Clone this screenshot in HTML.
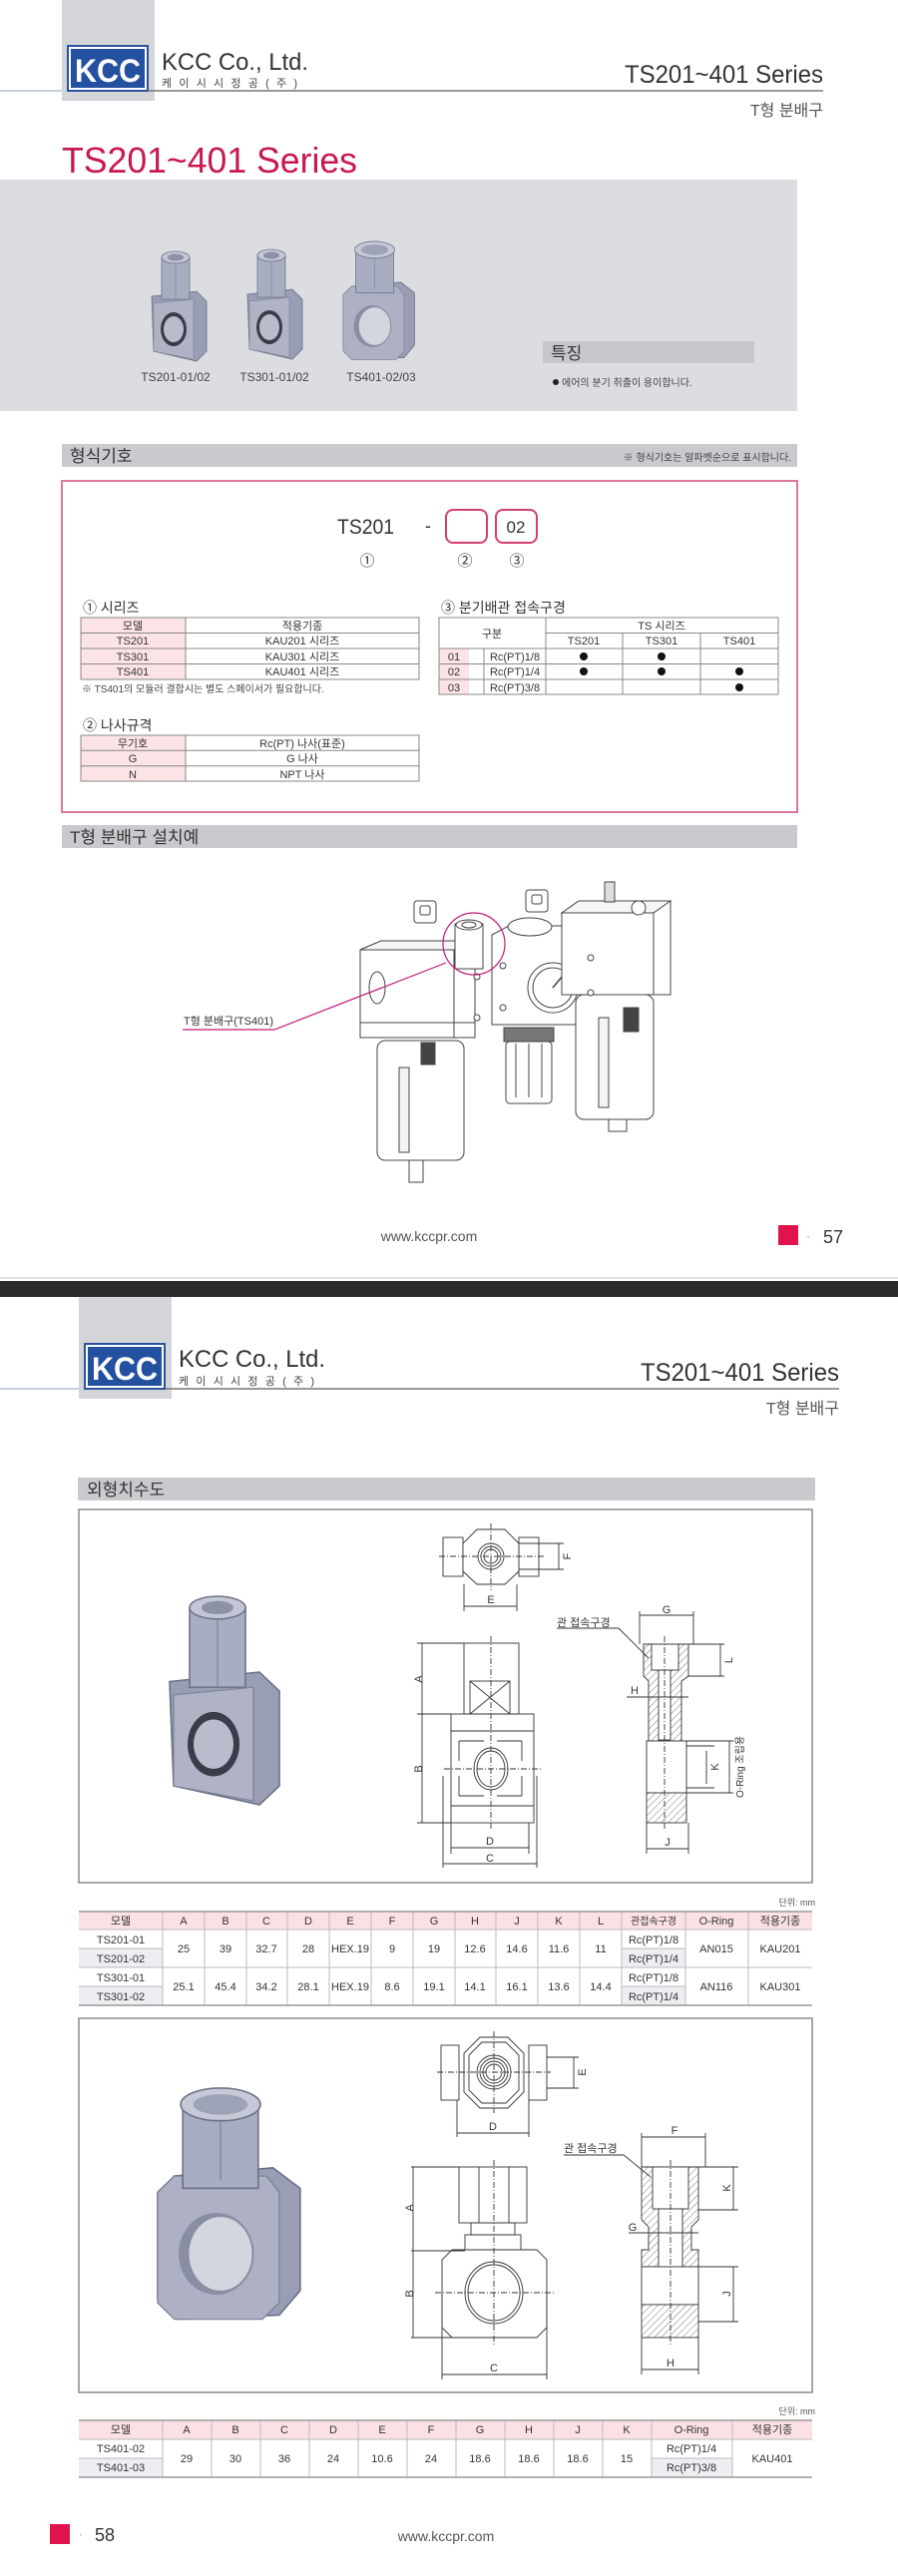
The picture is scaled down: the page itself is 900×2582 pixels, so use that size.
<!DOCTYPE html>
<html><head><meta charset="utf-8"><style>
html,body{margin:0;padding:0;background:#fff;}
svg{display:block;}
text{font-family:"Liberation Sans","Noto Sans CJK KR",sans-serif;fill:#333;}
</style></head><body>
<svg width="900" height="2582" viewBox="0 0 900 2582" xmlns="http://www.w3.org/2000/svg">
<defs>
<pattern id="hat" width="5" height="5" patternUnits="userSpaceOnUse" patternTransform="rotate(45)">
<rect width="5" height="5" fill="#fff"/><line x1="0" y1="0" x2="0" y2="5" stroke="#555" stroke-width="0.8"/></pattern>
<g id="prodA">
<polygon points="0,45 45,40 55,50 55,100 45,110 2,100" fill="#9a9eb4" stroke="#6b6f84" stroke-width="0.8"/>
<polygon points="2,52 42,48 42,108 2,100" fill="#b0b3c6" stroke="#7d8196" stroke-width="0.6"/>
<rect x="10" y="6" width="28" height="42" fill="#a9adc2" stroke="#6f7388" stroke-width="0.8"/>
<line x1="24" y1="6" x2="24" y2="48" stroke="#7f8398" stroke-width="0.6"/>
<ellipse cx="24" cy="6" rx="14" ry="6" fill="#c3c6d5" stroke="#6f7388" stroke-width="0.8"/>
<ellipse cx="24" cy="6" rx="8" ry="3.5" fill="#8d91a6"/>
<ellipse cx="22" cy="78" rx="13" ry="17" fill="#3a3c48"/>
<ellipse cx="22" cy="78" rx="10" ry="13" fill="#b9bccc"/>
</g>
<g id="prodB">
<polygon points="0,50 8,42 55,38 68,48 68,98 58,110 10,112 0,102" fill="#9a9eb4" stroke="#6b6f84" stroke-width="0.8"/>
<polygon points="0,50 8,42 52,42 58,50 58,104 50,112 8,112 0,104" fill="#aeb1c4" stroke="#7d8196" stroke-width="0.6"/>
<rect x="12" y="6" width="36" height="42" fill="#a9adc2" stroke="#6f7388" stroke-width="0.8"/>
<line x1="30" y1="6" x2="30" y2="44" stroke="#7f8398" stroke-width="0.6"/>
<ellipse cx="30" cy="7" rx="19" ry="8" fill="#c6c9d6" stroke="#6f7388" stroke-width="0.8"/>
<ellipse cx="30" cy="7" rx="13" ry="5" fill="#9ea2b6"/>
<ellipse cx="28" cy="80" rx="18" ry="20" fill="#8a8ea3"/>
<ellipse cx="30" cy="80" rx="15" ry="18" fill="#d4d6df"/>
</g>
<g id="logo">
<rect x="0" y="0" width="80" height="45" fill="#fff" stroke="#2a52a0" stroke-width="2"/>
<rect x="3" y="3" width="74" height="39" fill="#2450a0"/>
<text x="40" y="36" text-anchor="middle" font-size="32" font-weight="bold" style="fill:#fff" textLength="66" lengthAdjust="spacingAndGlyphs">KCC</text>
</g>
</defs>

<!-- ============ PAGE 1 ============ -->
<rect x="62" y="0" width="93" height="101" fill="#d4d5d8"/>
<use href="#logo" x="68" y="46"/>
<text x="162" y="70" font-size="24" textLength="147" lengthAdjust="spacingAndGlyphs">KCC Co., Ltd.</text>
<text x="162" y="87" font-size="11" textLength="136" lengthAdjust="spacing" style="fill:#444">케이시시정공(주)</text>
<line x1="0" y1="91" x2="62" y2="91" stroke="#8b9bb4" stroke-width="1"/>
<line x1="148" y1="91" x2="825" y2="91" stroke="#777" stroke-width="1.5"/>
<text x="626" y="83" font-size="25" textLength="199" lengthAdjust="spacingAndGlyphs">TS201~401 Series</text>
<text x="825" y="116" font-size="16" text-anchor="end" style="fill:#555">T형 분배구</text>
<text x="62" y="173" font-size="36" textLength="296" lengthAdjust="spacingAndGlyphs" style="fill:#c8194f">TS201~401 Series</text>

<rect x="0" y="180" width="799" height="232" fill="#dcdde0"/>
<use href="#prodA" transform="translate(152,252) scale(1.0)"/>
<use href="#prodA" transform="translate(248,250) scale(1.0)"/>
<use href="#prodB" transform="translate(344,243) scale(1.05)"/>
<text x="176" y="382" font-size="12" text-anchor="middle" style="fill:#444">TS201-01/02</text>
<text x="275" y="382" font-size="12" text-anchor="middle" style="fill:#444">TS301-01/02</text>
<text x="382" y="382" font-size="12" text-anchor="middle" style="fill:#444">TS401-02/03</text>
<rect x="544" y="342" width="212" height="22" fill="#c6c7ca"/>
<text x="552" y="360" font-size="17">특징</text>
<circle cx="557" cy="383" r="3" fill="#222"/>
<text x="563" y="387" font-size="10" style="fill:#444">에어의 분기 취출이 용이합니다.</text>

<rect x="62" y="445" width="737" height="23" fill="#c9cacd"/>
<text x="70" y="463" font-size="17">형식기호</text>
<text x="793" y="462" font-size="10" text-anchor="end" style="fill:#444">※ 형식기호는 알파벳순으로 표시합니다.</text>
<rect x="62" y="482" width="737" height="332" fill="none" stroke="#d9789d" stroke-width="2"/>
<text x="338" y="535" font-size="21" textLength="57" lengthAdjust="spacingAndGlyphs">TS201</text>
<text x="426" y="533" font-size="18">-</text>
<rect x="447" y="511" width="41" height="33" rx="7" fill="none" stroke="#d4406e" stroke-width="2"/>
<rect x="497" y="511" width="41" height="33" rx="7" fill="none" stroke="#d4406e" stroke-width="2"/>
<text x="517" y="534" font-size="17" text-anchor="middle">02</text>
<text x="368" y="567" font-size="15" text-anchor="middle">①</text>
<text x="466" y="567" font-size="15" text-anchor="middle">②</text>
<text x="518" y="567" font-size="15" text-anchor="middle">③</text>

<!-- table 1 -->
<text x="83" y="614" font-size="14">① 시리즈</text>
<rect x="81" y="619" width="105" height="62" fill="#fbe3e6"/>
<g stroke="#888" stroke-width="1" fill="none">
<rect x="81" y="619" width="339" height="62"/>
<line x1="186" y1="619" x2="186" y2="681"/>
<line x1="81" y1="634.5" x2="420" y2="634.5"/>
<line x1="81" y1="650" x2="420" y2="650"/>
<line x1="81" y1="665.5" x2="420" y2="665.5"/>
</g>
<g font-size="11" text-anchor="middle">
<text x="133" y="631">모델</text><text x="303" y="631">적용기종</text>
<text x="133" y="646">TS201</text><text x="303" y="646">KAU201 시리즈</text>
<text x="133" y="662">TS301</text><text x="303" y="662">KAU301 시리즈</text>
<text x="133" y="677">TS401</text><text x="303" y="677">KAU401 시리즈</text>
</g>
<text x="82" y="694" font-size="10" style="fill:#444">※ TS401의 모듈러 결합시는 별도 스페이서가 필요합니다.</text>

<text x="83" y="732" font-size="14">② 나사규격</text>
<rect x="81" y="737" width="105" height="46" fill="#fbe3e6"/>
<g stroke="#888" stroke-width="1" fill="none">
<rect x="81" y="737" width="339" height="46"/>
<line x1="186" y1="737" x2="186" y2="783"/>
<line x1="81" y1="752.3" x2="420" y2="752.3"/>
<line x1="81" y1="767.7" x2="420" y2="767.7"/>
</g>
<g font-size="11" text-anchor="middle">
<text x="133" y="749">무기호</text><text x="303" y="749">Rc(PT) 나사(표준)</text>
<text x="133" y="764">G</text><text x="303" y="764">G 나사</text>
<text x="133" y="780">N</text><text x="303" y="780">NPT 나사</text>
</g>

<text x="442" y="614" font-size="14">③ 분기배관 접속구경</text>
<rect x="440" y="650" width="30" height="46" fill="#fbe3e6"/>
<g stroke="#888" stroke-width="1" fill="none">
<rect x="440" y="619" width="340" height="77"/>
<line x1="547" y1="619" x2="547" y2="696"/>
<line x1="547" y1="634.5" x2="780" y2="634.5"/>
<line x1="624" y1="634.5" x2="624" y2="696"/>
<line x1="702" y1="634.5" x2="702" y2="696"/>
<line x1="440" y1="650" x2="780" y2="650"/>
<line x1="440" y1="665.5" x2="780" y2="665.5"/>
<line x1="440" y1="681" x2="780" y2="681"/>
<line x1="485" y1="650" x2="485" y2="696"/>
</g>
<g font-size="11" text-anchor="middle">
<text x="493" y="639">구분</text>
<text x="663" y="631">TS 시리즈</text>
<text x="585" y="646">TS201</text><text x="663" y="646">TS301</text><text x="741" y="646">TS401</text>
<text x="455" y="662">01</text><text x="455" y="677">02</text><text x="455" y="693">03</text>
<text x="516" y="662">Rc(PT)1/8</text><text x="516" y="677">Rc(PT)1/4</text><text x="516" y="693">Rc(PT)3/8</text>
</g>
<g fill="#111">
<circle cx="585" cy="658" r="4"/><circle cx="663" cy="658" r="4"/>
<circle cx="585" cy="673" r="4"/><circle cx="663" cy="673" r="4"/><circle cx="741" cy="673" r="4"/>
<circle cx="741" cy="689" r="4"/>
</g>

<rect x="62" y="827" width="737" height="23" fill="#c9cacd"/>
<text x="70" y="845" font-size="17">T형 분배구 설치예</text>

<!-- illustration -->
<g stroke="#444" stroke-width="1" fill="#fff">
<rect x="415" y="903" width="22" height="22" rx="3"/><rect x="421" y="908" width="10" height="9" rx="2"/>
<rect x="527" y="892" width="22" height="22" rx="3"/><rect x="533" y="897" width="10" height="9" rx="2"/>
<!-- left unit -->
<rect x="378" y="1043" width="87" height="120" rx="8"/>
<rect x="400" y="1070" width="10" height="85" fill="#f4f4f4"/>
<rect x="422" y="1045" width="14" height="22" fill="#444"/>
<rect x="410" y="1163" width="14" height="22"/>
<polygon points="361,952 382,943 476,943 476,1040 361,1040"/>
<polygon points="361,952 382,943 476,943 455,952" fill="#f6f6f6"/>
<line x1="455" y1="952" x2="455" y2="1040"/>
<line x1="361" y1="1025" x2="476" y2="1025"/>
<ellipse cx="378" cy="990" rx="8" ry="16"/>
<!-- T piece -->
<rect x="456" y="926" width="28" height="45"/>
<ellipse cx="470" cy="927" rx="13" ry="5"/>
<ellipse cx="470" cy="927" rx="7" ry="3"/>
<!-- middle regulator -->
<polygon points="493,937 510,928 589,928 589,1027 493,1027"/>
<ellipse cx="531" cy="929" rx="22" ry="9"/>
<circle cx="554" cy="990" r="25"/>
<circle cx="554" cy="990" r="20"/>
<line x1="554" y1="990" x2="564" y2="978" stroke-width="1.5"/>
<rect x="505" y="1030" width="50" height="14" fill="#777"/>
<rect x="507" y="1044" width="46" height="62" rx="4"/>
<line x1="517" y1="1046" x2="517" y2="1100"/><line x1="530" y1="1046" x2="530" y2="1100"/><line x1="543" y1="1046" x2="543" y2="1100"/>
<!-- right unit -->
<polygon points="563,915 580,903 672,903 672,997 563,997"/>
<polygon points="563,915 580,903 672,903 655,915" fill="#f6f6f6"/>
<line x1="655" y1="915" x2="655" y2="997"/>
<rect x="606" y="884" width="10" height="20" fill="#ddd"/>
<circle cx="640" cy="910" r="7"/>
<rect x="577" y="997" width="78" height="125" rx="8"/>
<rect x="625" y="1010" width="15" height="24" fill="#444"/>
<rect x="600" y="1020" width="10" height="90" fill="#f4f4f4"/>
<rect x="610" y="1122" width="18" height="12"/>
<circle cx="478" cy="979" r="3"/><circle cx="478" cy="1020" r="3"/><circle cx="504" cy="968" r="3"/><circle cx="504" cy="1010" r="3"/>
<circle cx="592" cy="960" r="3"/><circle cx="592" cy="995" r="3"/>
</g>
<circle cx="475" cy="946" r="31" fill="none" stroke="#c2187a" stroke-width="1.2"/>
<polyline points="183,1032 275,1032 447,965" fill="none" stroke="#c2187a" stroke-width="1.2"/>
<text x="184" y="1027" font-size="11">T형 분배구(TS401)</text>

<text x="430" y="1244" font-size="14" text-anchor="middle" style="fill:#555">www.kccpr.com</text>
<rect x="780" y="1228" width="20" height="20" fill="#e0144c"/>
<text x="808" y="1243" font-size="12" style="fill:#888">·</text>
<text x="825" y="1246" font-size="18">57</text>
<line x1="0" y1="1281" x2="900" y2="1281" stroke="#bbb" stroke-width="1"/>
<rect x="0" y="1284" width="900" height="16" fill="#2b2b2b"/>

<!-- ============ PAGE 2 ============ -->
<rect x="79" y="1300" width="93" height="102" fill="#d4d5d8"/>
<use href="#logo" x="85" y="1347"/>
<text x="179" y="1370" font-size="24" textLength="147" lengthAdjust="spacingAndGlyphs">KCC Co., Ltd.</text>
<text x="179" y="1388" font-size="11" textLength="136" lengthAdjust="spacing" style="fill:#444">케이시시정공(주)</text>
<line x1="0" y1="1392" x2="79" y2="1392" stroke="#8b9bb4" stroke-width="1"/>
<line x1="166" y1="1392" x2="841" y2="1392" stroke="#777" stroke-width="1.5"/>
<text x="642" y="1384" font-size="25" textLength="199" lengthAdjust="spacingAndGlyphs">TS201~401 Series</text>
<text x="841" y="1417" font-size="16" text-anchor="end" style="fill:#555">T형 분배구</text>

<rect x="78" y="1481" width="739" height="23" fill="#c9cacd"/>
<text x="87" y="1499" font-size="17">외형치수도</text>
<rect x="79" y="1513" width="735" height="374" fill="none" stroke="#888" stroke-width="1.5"/>

<!-- box1 drawings -->
<use href="#prodA" transform="translate(170,1600) scale(2.0,1.9)"/>
<g stroke="#333" stroke-width="0.9" fill="none">
<!-- top view -->
<rect x="444" y="1541" width="20" height="39"/><rect x="520" y="1541" width="20" height="39"/>
<polygon points="478,1533 506,1533 520,1547 520,1575 506,1588 478,1588 464,1575 464,1547" fill="#fff"/>
<circle cx="492" cy="1560" r="13"/><circle cx="492" cy="1560" r="10"/><circle cx="492" cy="1560" r="7"/>
<line x1="440" y1="1560" x2="545" y2="1560" stroke-dasharray="6,2,1,2"/>
<line x1="492" y1="1527" x2="492" y2="1594" stroke-dasharray="6,2,1,2"/>
<line x1="520" y1="1547" x2="565" y2="1547"/><line x1="520" y1="1573" x2="565" y2="1573"/>
<line x1="560" y1="1547" x2="560" y2="1573"/>
<line x1="465" y1="1588" x2="465" y2="1615"/><line x1="518" y1="1588" x2="518" y2="1615"/>
<line x1="465" y1="1610" x2="518" y2="1610"/>
<!-- front -->
<rect x="465" y="1647" width="55" height="71"/>
<rect x="471" y="1685" width="40" height="33"/>
<line x1="471" y1="1685" x2="511" y2="1718"/><line x1="511" y1="1685" x2="471" y2="1718"/>
<rect x="452" y="1718" width="83" height="109"/>
<line x1="452" y1="1735" x2="535" y2="1735"/><line x1="452" y1="1810" x2="535" y2="1810"/>
<ellipse cx="492" cy="1773" rx="17" ry="21"/><ellipse cx="492" cy="1773" rx="14" ry="18"/>
<path d="M460,1745 h25 M460,1745 v20 M523,1745 h-25 M523,1745 v20 M460,1800 h25 M460,1800 v-20 M523,1800 h-25 M523,1800 v-20"/>
<line x1="492" y1="1640" x2="492" y2="1835" stroke-dasharray="6,2,1,2"/>
<line x1="445" y1="1773" x2="542" y2="1773" stroke-dasharray="6,2,1,2"/>
<line x1="418" y1="1647" x2="465" y2="1647"/><line x1="418" y1="1718" x2="452" y2="1718"/><line x1="418" y1="1827" x2="452" y2="1827"/>
<line x1="423" y1="1647" x2="423" y2="1827"/>
<line x1="452" y1="1827" x2="452" y2="1858"/><line x1="530" y1="1827" x2="530" y2="1858"/>
<line x1="452" y1="1852" x2="530" y2="1852"/>
<line x1="444" y1="1780" x2="444" y2="1872"/><line x1="538" y1="1780" x2="538" y2="1872"/>
<line x1="444" y1="1868" x2="538" y2="1868"/>
<!-- section -->
<polygon points="645,1648 690,1648 690,1680 683,1685 683,1745 650,1745 650,1685 645,1680" fill="url(#hat)"/>
<rect x="653" y="1648" width="27" height="26" fill="#fff"/>
<rect x="660" y="1674" width="12" height="70" fill="#fff"/>
<rect x="648" y="1745" width="40" height="52" fill="#fff"/>
<rect x="648" y="1797" width="40" height="30" fill="url(#hat)"/>
<line x1="666" y1="1640" x2="666" y2="1835" stroke-dasharray="6,2,1,2"/>
<line x1="641" y1="1615" x2="641" y2="1648"/><line x1="695" y1="1615" x2="695" y2="1648"/>
<line x1="641" y1="1619" x2="695" y2="1619"/>
<line x1="690" y1="1648" x2="726" y2="1648"/><line x1="690" y1="1680" x2="726" y2="1680"/>
<line x1="722" y1="1648" x2="722" y2="1680"/>
<line x1="628" y1="1701" x2="690" y2="1701"/>
<line x1="688" y1="1750" x2="716" y2="1750"/><line x1="688" y1="1792" x2="716" y2="1792"/>
<line x1="708" y1="1755" x2="708" y2="1788"/>
<line x1="688" y1="1745" x2="735" y2="1745"/><line x1="688" y1="1797" x2="735" y2="1797"/>
<line x1="731" y1="1745" x2="731" y2="1797"/>
<line x1="648" y1="1827" x2="648" y2="1858"/><line x1="690" y1="1827" x2="690" y2="1858"/>
<line x1="648" y1="1853" x2="690" y2="1853"/>
<polyline points="558,1632 620,1632 650,1662"/>
</g>
<g font-size="11" text-anchor="middle">
<text x="492" y="1607">E</text>
<text x="568" y="1564" transform="rotate(-90 568 1560)">F</text>
<text x="419" y="1687" transform="rotate(-90 419 1683)">A</text>
<text x="419" y="1777" transform="rotate(-90 419 1773)">B</text>
<text x="491" y="1849">D</text><text x="491" y="1866">C</text>
<text x="668" y="1617">G</text>
<text x="730" y="1668" transform="rotate(-90 730 1664)">L</text>
<text x="636" y="1698">H</text>
<text x="716" y="1775" transform="rotate(-90 716 1771)">K</text>
<text x="741" y="1775" font-size="10" transform="rotate(-90 741 1771)">O-Ring 조립용</text>
<text x="669" y="1850">J</text>
</g>
<text x="558" y="1630" font-size="11">관 접속구경</text>

<!-- table 1 -->
<text x="817" y="1910" font-size="9" text-anchor="end" style="fill:#555">단위: mm</text>
<rect x="79" y="1916" width="735" height="18" fill="#fbe1e4"/>
<rect x="79" y="1953" width="84" height="19" fill="#eceef1"/><rect x="79" y="1991" width="84" height="19" fill="#eceef1"/>
<rect x="623" y="1953" width="64" height="19" fill="#eceef1"/><rect x="623" y="1991" width="64" height="19" fill="#eceef1"/>
<g stroke="#bbb" stroke-width="1">
<line x1="163" y1="1916" x2="163" y2="2010"/><line x1="205" y1="1916" x2="205" y2="2010"/><line x1="247" y1="1916" x2="247" y2="2010"/>
<line x1="288" y1="1916" x2="288" y2="2010"/><line x1="330" y1="1916" x2="330" y2="2010"/><line x1="372" y1="1916" x2="372" y2="2010"/>
<line x1="414" y1="1916" x2="414" y2="2010"/><line x1="456" y1="1916" x2="456" y2="2010"/><line x1="497" y1="1916" x2="497" y2="2010"/>
<line x1="539" y1="1916" x2="539" y2="2010"/><line x1="581" y1="1916" x2="581" y2="2010"/><line x1="623" y1="1916" x2="623" y2="2010"/>
<line x1="687" y1="1916" x2="687" y2="2010"/><line x1="750" y1="1916" x2="750" y2="2010"/>
<line x1="79" y1="1934" x2="814" y2="1934"/><line x1="79" y1="1972" x2="814" y2="1972"/>
<line x1="79" y1="1953" x2="163" y2="1953"/><line x1="623" y1="1953" x2="687" y2="1953"/>
<line x1="79" y1="1991" x2="163" y2="1991"/><line x1="623" y1="1991" x2="687" y2="1991"/>
</g>
<line x1="79" y1="1916" x2="814" y2="1916" stroke="#999" stroke-width="1.5"/>
<line x1="79" y1="2010" x2="814" y2="2010" stroke="#999" stroke-width="1.5"/>
<g font-size="11" text-anchor="middle">
<text x="121" y="1929">모델</text><text x="184" y="1929">A</text><text x="226" y="1929">B</text><text x="267" y="1929">C</text><text x="309" y="1929">D</text><text x="351" y="1929">E</text><text x="393" y="1929">F</text><text x="435" y="1929">G</text><text x="476" y="1929">H</text><text x="518" y="1929">J</text><text x="560" y="1929">K</text><text x="602" y="1929">L</text><text x="655" y="1929" font-size="10">관접속구경</text><text x="718" y="1929">O-Ring</text><text x="782" y="1929">적용기종</text>
<text x="121" y="1948">TS201-01</text><text x="121" y="1967">TS201-02</text><text x="121" y="1986">TS301-01</text><text x="121" y="2005">TS301-02</text>
<text x="184" y="1957">25</text><text x="226" y="1957">39</text><text x="267" y="1957">32.7</text><text x="309" y="1957">28</text><text x="351" y="1957">HEX.19</text><text x="393" y="1957">9</text><text x="435" y="1957">19</text><text x="476" y="1957">12.6</text><text x="518" y="1957">14.6</text><text x="560" y="1957">11.6</text><text x="602" y="1957">11</text>
<text x="184" y="1995">25.1</text><text x="226" y="1995">45.4</text><text x="267" y="1995">34.2</text><text x="309" y="1995">28.1</text><text x="351" y="1995">HEX.19</text><text x="393" y="1995">8.6</text><text x="435" y="1995">19.1</text><text x="476" y="1995">14.1</text><text x="518" y="1995">16.1</text><text x="560" y="1995">13.6</text><text x="602" y="1995">14.4</text>
<text x="655" y="1948">Rc(PT)1/8</text><text x="655" y="1967">Rc(PT)1/4</text><text x="655" y="1986">Rc(PT)1/8</text><text x="655" y="2005">Rc(PT)1/4</text>
<text x="718" y="1957">AN015</text><text x="782" y="1957">KAU201</text>
<text x="718" y="1995">AN116</text><text x="782" y="1995">KAU301</text>
</g>

<!-- box2 -->
<rect x="79" y="2023" width="735" height="375" fill="none" stroke="#888" stroke-width="1.5"/>
<use href="#prodB" transform="translate(158,2095) scale(2.1,2.05)"/>
<g stroke="#333" stroke-width="0.9" fill="none">
<rect x="442" y="2050" width="18" height="55"/><rect x="530" y="2050" width="18" height="55"/>
<polygon points="481,2042 509,2042 525,2058 525,2097 509,2113 481,2113 465,2097 465,2058" fill="#fff"/>
<polygon points="483,2047 507,2047 520,2060 520,2095 507,2108 483,2108 470,2095 470,2060"/>
<circle cx="495" cy="2077" r="17"/><circle cx="495" cy="2077" r="14"/><circle cx="495" cy="2077" r="11"/><circle cx="495" cy="2077" r="8"/>
<line x1="438" y1="2077" x2="552" y2="2077" stroke-dasharray="6,2,1,2"/>
<line x1="495" y1="2036" x2="495" y2="2118" stroke-dasharray="6,2,1,2"/>
<line x1="548" y1="2062" x2="580" y2="2062"/><line x1="548" y1="2093" x2="580" y2="2093"/>
<line x1="575" y1="2062" x2="575" y2="2093"/>
<line x1="458" y1="2105" x2="458" y2="2142"/><line x1="530" y1="2105" x2="530" y2="2142"/>
<line x1="458" y1="2138" x2="530" y2="2138"/>
<rect x="460" y="2172" width="68" height="56"/>
<line x1="480" y1="2172" x2="480" y2="2228"/><line x1="510" y1="2172" x2="510" y2="2228"/>
<rect x="472" y="2228" width="44" height="12"/><rect x="466" y="2240" width="56" height="15"/>
<polygon points="453,2255 538,2255 548,2265 548,2333 538,2343 453,2343 443,2333 443,2265" fill="#fff"/>
<ellipse cx="495" cy="2298" rx="29" ry="31"/><ellipse cx="495" cy="2298" rx="26" ry="28"/>
<line x1="495" y1="2165" x2="495" y2="2350" stroke-dasharray="6,2,1,2"/>
<line x1="436" y1="2298" x2="555" y2="2298" stroke-dasharray="6,2,1,2"/>
<line x1="412" y1="2172" x2="460" y2="2172"/><line x1="412" y1="2256" x2="466" y2="2256"/><line x1="412" y1="2343" x2="453" y2="2343"/>
<line x1="414" y1="2172" x2="414" y2="2343"/>
<line x1="443" y1="2300" x2="443" y2="2385"/><line x1="548" y1="2300" x2="548" y2="2385"/>
<line x1="443" y1="2380" x2="548" y2="2380"/>
<polygon points="643,2172 700,2172 700,2225 693,2232 693,2255 700,2255 700,2272 643,2272 643,2255 650,2255 650,2232 643,2225" fill="url(#hat)"/>
<rect x="654" y="2172" width="36" height="42" fill="#fff"/>
<rect x="660" y="2214" width="24" height="58" fill="#fff"/>
<rect x="643" y="2272" width="57" height="38" fill="#fff"/>
<rect x="643" y="2310" width="57" height="33" fill="url(#hat)"/>
<line x1="672" y1="2165" x2="672" y2="2350" stroke-dasharray="6,2,1,2"/>
<line x1="643" y1="2138" x2="643" y2="2172"/><line x1="707" y1="2138" x2="707" y2="2172"/>
<line x1="643" y1="2142" x2="707" y2="2142"/>
<line x1="700" y1="2172" x2="740" y2="2172"/><line x1="700" y1="2215" x2="740" y2="2215"/>
<line x1="735" y1="2172" x2="735" y2="2215"/>
<line x1="630" y1="2238" x2="700" y2="2238"/>
<line x1="700" y1="2272" x2="740" y2="2272"/><line x1="700" y1="2327" x2="740" y2="2327"/>
<line x1="735" y1="2272" x2="735" y2="2327"/>
<line x1="643" y1="2343" x2="643" y2="2380"/><line x1="700" y1="2343" x2="700" y2="2380"/>
<line x1="643" y1="2375" x2="700" y2="2375"/>
<polyline points="565,2160 625,2160 652,2182"/>
</g>
<g font-size="11" text-anchor="middle">
<text x="494" y="2135">D</text>
<text x="583" y="2081" transform="rotate(-90 583 2077)">E</text>
<text x="410" y="2217" transform="rotate(-90 410 2213)">A</text>
<text x="410" y="2303" transform="rotate(-90 410 2299)">B</text>
<text x="495" y="2377">C</text>
<text x="676" y="2139">F</text>
<text x="728" y="2197" transform="rotate(-90 728 2193)">K</text>
<text x="634" y="2236">G</text>
<text x="728" y="2303" transform="rotate(-90 728 2299)">J</text>
<text x="672" y="2372">H</text>
</g>
<text x="565" y="2157" font-size="11">관 접속구경</text>

<!-- table 2 -->
<text x="817" y="2420" font-size="9" text-anchor="end" style="fill:#555">단위: mm</text>
<rect x="79" y="2426" width="735" height="19" fill="#fbe1e4"/>
<rect x="79" y="2464" width="84" height="19" fill="#eceef1"/>
<rect x="653" y="2464" width="81" height="19" fill="#eceef1"/>
<g stroke="#bbb" stroke-width="1">
<line x1="163" y1="2426" x2="163" y2="2483"/><line x1="212" y1="2426" x2="212" y2="2483"/><line x1="261" y1="2426" x2="261" y2="2483"/>
<line x1="310" y1="2426" x2="310" y2="2483"/><line x1="359" y1="2426" x2="359" y2="2483"/><line x1="408" y1="2426" x2="408" y2="2483"/>
<line x1="457" y1="2426" x2="457" y2="2483"/><line x1="506" y1="2426" x2="506" y2="2483"/><line x1="555" y1="2426" x2="555" y2="2483"/>
<line x1="604" y1="2426" x2="604" y2="2483"/><line x1="653" y1="2426" x2="653" y2="2483"/><line x1="734" y1="2426" x2="734" y2="2483"/>
<line x1="79" y1="2445" x2="814" y2="2445"/>
<line x1="79" y1="2464" x2="163" y2="2464"/><line x1="653" y1="2464" x2="734" y2="2464"/>
</g>
<line x1="79" y1="2426" x2="814" y2="2426" stroke="#999" stroke-width="1.5"/>
<line x1="79" y1="2483" x2="814" y2="2483" stroke="#999" stroke-width="1.5"/>
<g font-size="11" text-anchor="middle">
<text x="121" y="2439">모델</text><text x="187" y="2439">A</text><text x="236" y="2439">B</text><text x="285" y="2439">C</text><text x="334" y="2439">D</text><text x="383" y="2439">E</text><text x="432" y="2439">F</text><text x="481" y="2439">G</text><text x="530" y="2439">H</text><text x="579" y="2439">J</text><text x="628" y="2439">K</text><text x="693" y="2439">O-Ring</text><text x="774" y="2439">적용기종</text>
<text x="121" y="2458">TS401-02</text><text x="121" y="2477">TS401-03</text>
<text x="187" y="2468">29</text><text x="236" y="2468">30</text><text x="285" y="2468">36</text><text x="334" y="2468">24</text><text x="383" y="2468">10.6</text><text x="432" y="2468">24</text><text x="481" y="2468">18.6</text><text x="530" y="2468">18.6</text><text x="579" y="2468">18.6</text><text x="628" y="2468">15</text>
<text x="693" y="2458">Rc(PT)1/4</text><text x="693" y="2477">Rc(PT)3/8</text>
<text x="774" y="2468">KAU401</text>
</g>

<rect x="50" y="2530" width="20" height="20" fill="#e0144c"/>
<text x="79" y="2544" font-size="12" style="fill:#888">·</text>
<text x="95" y="2547" font-size="18">58</text>
<text x="447" y="2547" font-size="14" text-anchor="middle" style="fill:#555">www.kccpr.com</text>
</svg>
</body></html>
